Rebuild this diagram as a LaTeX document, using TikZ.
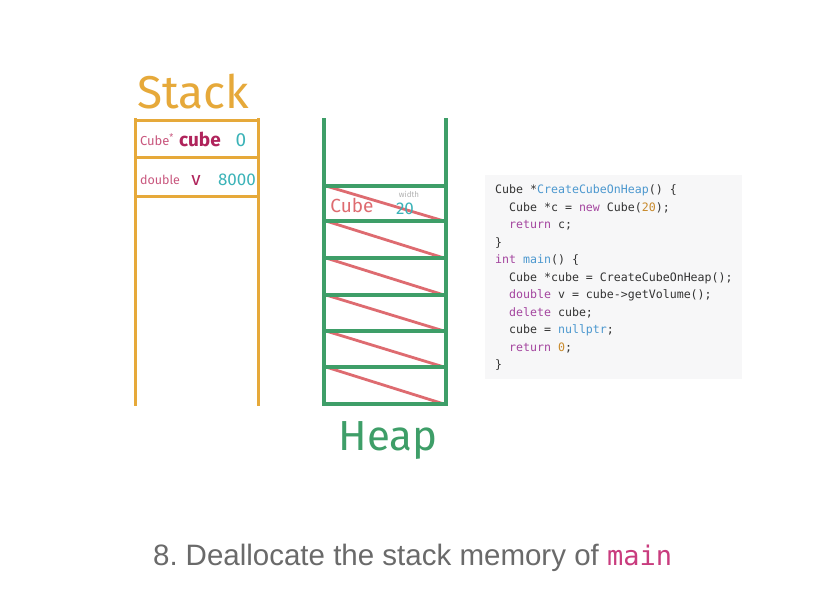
\documentclass[tikz,border=0pt]{standalone}
\usepackage{fontspec}
\setmainfont{Fira Sans}
\setsansfont{Liberation Sans}
\setmonofont{DejaVu Sans Mono}
\usepackage{tikz}
\usetikzlibrary{positioning,calc}

\definecolor{stackorange}{HTML}{E6A93A}
\definecolor{heapgreen}{HTML}{3E9E68}
\definecolor{crossred}{HTML}{DE6B70}
\definecolor{typepink}{HTML}{C9577E}
\definecolor{namemag}{HTML}{B0245C}
\definecolor{valteal}{HTML}{3BB3B8}
\definecolor{codebg}{HTML}{F7F7F8}
\definecolor{codetxt}{HTML}{333333}
\definecolor{kwpurple}{HTML}{A4459F}
\definecolor{fnblue}{HTML}{4C98CF}
\definecolor{numorange}{HTML}{C88A2C}
\definecolor{capgray}{HTML}{6A6A6A}
\definecolor{mainpink}{HTML}{C93C7E}

\newcommand{\kw}[1]{\textcolor{kwpurple}{#1}}
\newcommand{\fn}[1]{\textcolor{fnblue}{#1}}
\newcommand{\num}[1]{\textcolor{numorange}{#1}}

\begin{document}
\begin{tikzpicture}[
    x=1pt, y=-1pt,
    stackline/.style={draw=stackorange, line width=3pt},
    heapline/.style={draw=heapgreen, line width=3.6pt},
    cross/.style={draw=crossred, line width=2.8pt},
    hand/.style={inner sep=0pt, anchor=base},
    codeline/.style={inner sep=0pt, anchor=base west,
        font=\ttfamily\fontsize{11.6}{13}\selectfont, text=codetxt}
]
\useasboundingbox[fill=white] (0,0) rectangle (828,611);

%-----------------------------------
% Stack
%-----------------------------------
\node[hand, text=stackorange, font=\fontsize{46}{50}\selectfont] (StackTitle) at (193,108) {Stack};

\draw[stackline] (135,118) -- (135,406);
\draw[stackline] (258,118) -- (258,406);
\draw[stackline] (135,120) -- (258,120);
\draw[stackline] (135,157) -- (258,157);
\draw[stackline] (135,196) -- (258,196);

\node[hand, text=typepink, font=\fontsize{13}{14}\selectfont] (PtrType) at (157,145) {Cube\textsuperscript{*}};
\node[hand, text=namemag, font=\fontsize{19}{20}\selectfont\bfseries] (PtrName) at (200,146) {cube};
\node[hand, text=valteal, font=\fontsize{19}{20}\selectfont] (PtrVal) at (241,146) {0};

\node[hand, text=typepink, font=\fontsize{12.5}{14}\selectfont] (DblType) at (160,184) {double};
\node[hand, text=namemag, font=\fontsize{19}{20}\selectfont] (DblName) at (196,185) {v};
\node[hand, text=valteal, font=\fontsize{17}{18}\selectfont] (DblVal) at (237,185) {8000};

%-----------------------------------
% Heap
%-----------------------------------
\foreach \top/\bot in {186/221, 221/258, 258/295, 295/331, 331/367, 367/404}
    \draw[cross] (326,\top) -- (444,\bot);

\draw[heapline] (324,118) -- (324,406);
\draw[heapline] (446,118) -- (446,406);
\foreach \yy in {186, 221, 258, 295, 331, 367, 404}
    \draw[heapline] (324,\yy) -- (446,\yy);

\node[hand, text=crossred, font=\fontsize{19}{20}\selectfont] (ObjType) at (352,212) {Cube};
\node[hand, text=black!30, font=\fontsize{8}{9}\selectfont] (ObjField) at (409,197) {width};
\node[hand, text=valteal, font=\fontsize{17}{18}\selectfont] (ObjVal) at (405,214) {20};

\node[hand, text=heapgreen, font=\fontsize{42}{46}\selectfont] (HeapTitle) at (388,450) {Heap};

%-----------------------------------
% Code
%-----------------------------------
\fill[codebg] (485,175) rectangle (742,379);

\node[codeline] (L1) at (495,193) {Cube *\fn{CreateCubeOnHeap}() \{};
\node[codeline] (L2) at (495,211) {\ \ Cube *c = \kw{new} Cube(\num{20});};
\node[codeline] (L3) at (495,228) {\ \ \kw{return} c;};
\node[codeline] (L4) at (495,246) {\}};
\node[codeline] (L5) at (495,263) {\kw{int} \fn{main}() \{};
\node[codeline] (L6) at (495,281) {\ \ Cube *cube = CreateCubeOnHeap();};
\node[codeline] (L7) at (495,298) {\ \ \kw{double} v = cube->getVolume();};
\node[codeline] (L8) at (495,316) {\ \ \kw{delete} cube;};
\node[codeline] (L9) at (495,333) {\ \ cube = \fn{nullptr};};
\node[codeline] (L10) at (495,351) {\ \ \kw{return} \num{0};};
\node[codeline] (L11) at (495,368) {\}};

%-----------------------------------
% Caption
%-----------------------------------
\node[inner sep=0pt, anchor=base west, text=capgray, font=\sffamily\fontsize{29.5}{32}\selectfont] (Caption) at (153,565)
    {8.\hspace{-3pt} Deallocate the stack memory of \textcolor{mainpink}{\ttfamily\fontsize{27}{30}\selectfont main}};

\end{tikzpicture}
\end{document}
